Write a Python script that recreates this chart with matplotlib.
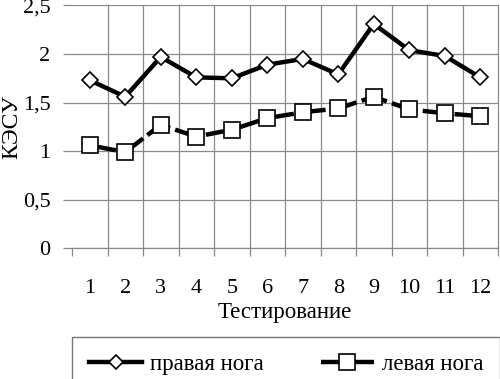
import matplotlib
matplotlib.use("Agg")
import matplotlib.pyplot as plt

plt.rcParams['font.family'] = ['Liberation Serif', 'DejaVu Serif']

tests = [1, 2, 3, 4, 5, 6, 7, 8, 9, 10, 11, 12]
right_leg = [1.73, 1.56, 1.97, 1.76, 1.75, 1.89, 1.95, 1.79, 2.31, 2.04, 1.98, 1.76]
left_leg = [1.06, 0.99, 1.27, 1.15, 1.22, 1.34, 1.40, 1.44, 1.56, 1.43, 1.39, 1.36]
yticks = [0, 0.5, 1, 1.5, 2, 2.5]
ytick_labels = ["0", "0,5", "1", "1,5", "2", "2,5"]
xlabel = "Тестирование"
ylabel = "КЭСУ"
labels = ["правая нога", "левая нога"]

fig = plt.figure(figsize=(5.0, 3.79), dpi=100)
ax = fig.add_axes([0.144, 0.345, 0.852, 0.6405])

grid_c = "#8a8a8a"
ax.set_xlim(0.5, len(tests) + 0.5)
ax.set_ylim(0, 2.5)

# vertical grid at category boundaries
for b in range(1, len(tests) + 1):
    ax.axvline(b + 0.5, color=grid_c, lw=0.9, zorder=0, clip_on=False)
ax.set_yticks(yticks)
ax.set_yticklabels(ytick_labels)
ax.yaxis.grid(True, color=grid_c, lw=0.9)
ax.set_axisbelow(True)

ax.set_xticks(tests)
ax.set_xticklabels([str(t) for t in tests])
ax.set_xticks([t + 0.5 for t in [0] + tests], minor=True)
ax.tick_params(axis='x', which='major', length=0, pad=22, labelsize=16)
ax.tick_params(axis='x', which='minor', length=6, color=grid_c, width=0.9)
ax.tick_params(axis='y', length=6.5, color=grid_c, width=0.9, labelsize=16, pad=9)

for s in ['top', 'right', 'left']:
    ax.spines[s].set_visible(False)
ax.spines['bottom'].set_color(grid_c)
ax.spines['bottom'].set_linewidth(0.9)

ax.plot(tests, right_leg, color='black', lw=3.2, marker='D', ms=8,
        mfc='white', mec='black', mew=1.2, zorder=3, label=labels[0])
ax.plot(tests, left_leg, color='black', lw=3.2, ls=(0, (6, 1.2)), marker='s', ms=11.5,
        mfc='white', mec='black', mew=1.2, zorder=3, label=labels[1])

ax.set_xlabel(xlabel, fontsize=16.5, labelpad=3)
fig.text(1 / 500, 1 - 127 / 379, ylabel, rotation=90, fontsize=17,
         ha='left', va='center')

leg = fig.legend(loc='upper left', bbox_to_anchor=(72 / 500, 1 - 337 / 379),
                 ncol=2, fontsize=16.5, frameon=True, fancybox=False,
                 edgecolor='#555555', handlelength=2.3, borderpad=0.75, borderaxespad=0,
                 columnspacing=2.5, handletextpad=0.35, markerscale=0.95)
leg.get_frame().set_linewidth(1.0)

fig.savefig("out.png", dpi=100)
